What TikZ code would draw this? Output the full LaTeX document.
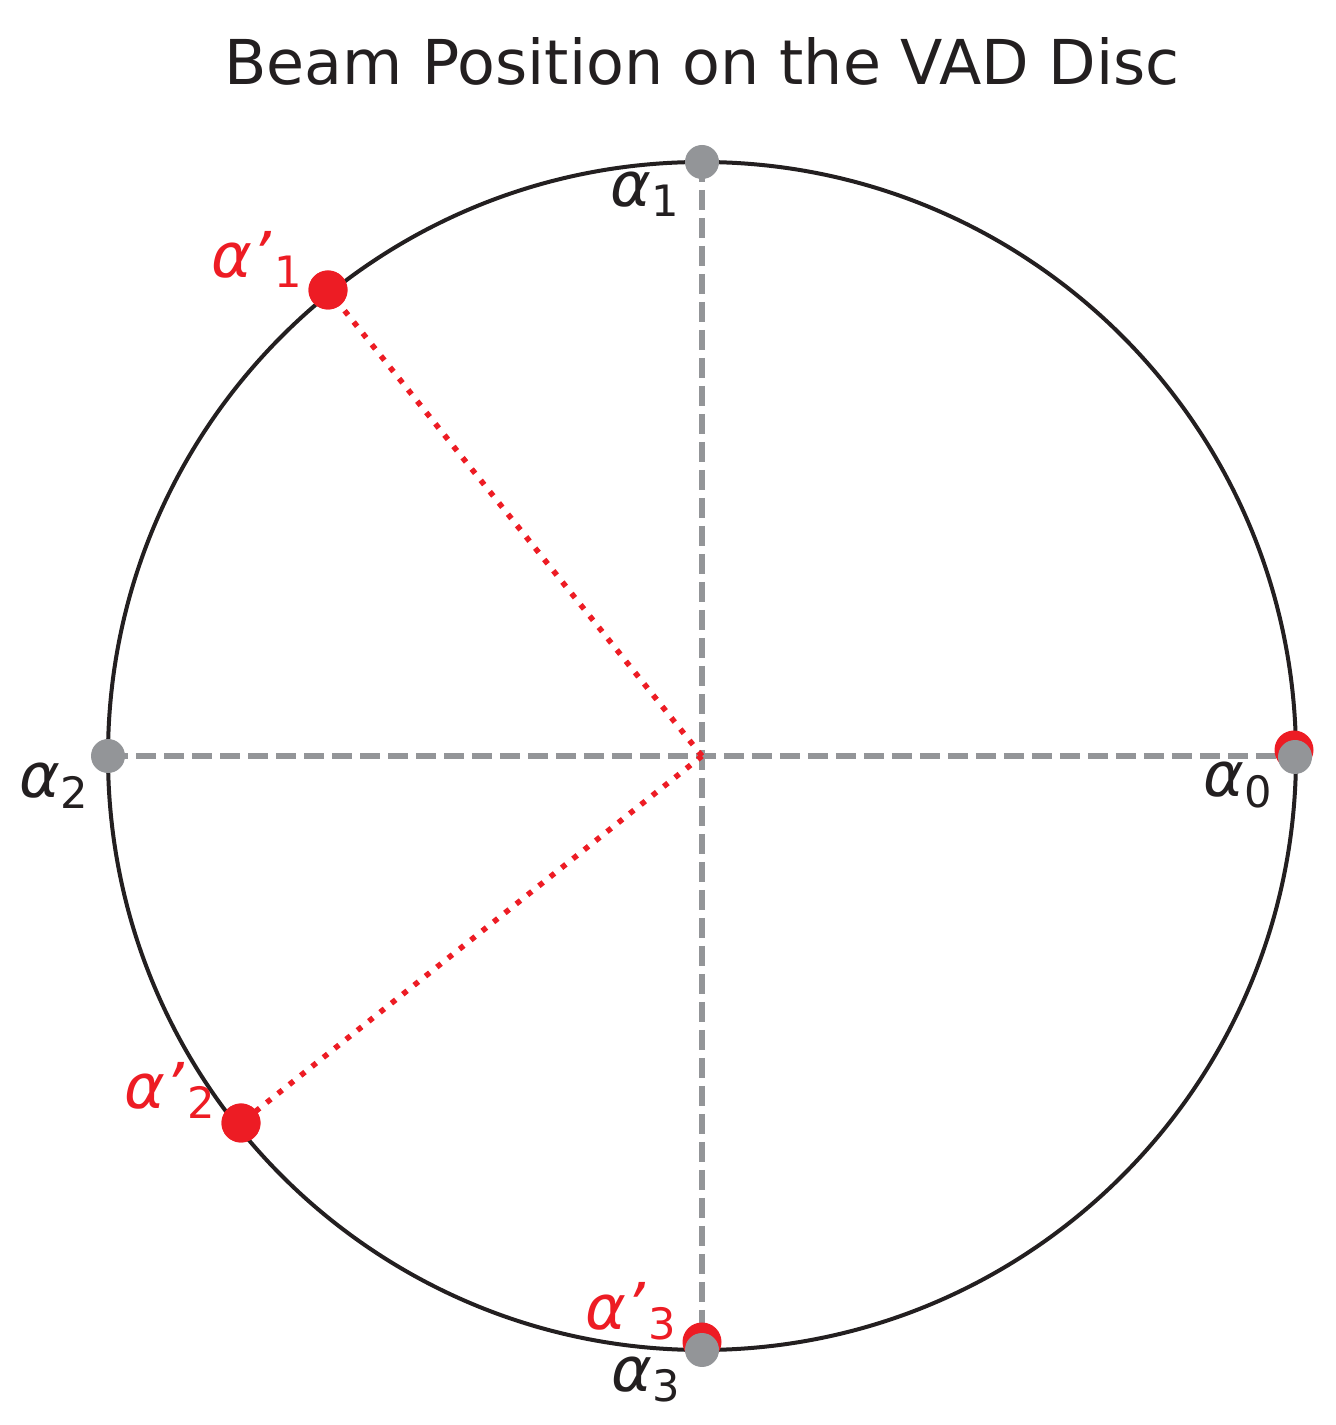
\documentclass[tikz,border=0pt]{standalone}
\usepackage{fontspec}
\setmainfont{DejaVu Sans}
\definecolor{vred}{HTML}{ED1C24}
\definecolor{vgray}{HTML}{939598}
\definecolor{vblack}{HTML}{231F20}
\newcommand\subsz{\fontsize{12.3pt}{13pt}\selectfont}
\newcommand\albl[1]{\textit{α}\raisebox{-0.17em}{\subsz #1}}
\newcommand\alblp[1]{\textit{α}\kern-0.02em\raisebox{0.02em}{\itshape\char"27}\kern0.06em\raisebox{-0.17em}{\subsz #1}}
\tikzset{
  disc/.style={draw=vblack, line width=0.04cm},
  axisline/.style={vgray, line width=0.055cm, dash pattern=on 0.2cm off 0.08cm},
  beamline/.style={vred, line width=0.055cm, dash pattern=on 0.055cm off 0.09cm},
  graydot/.style={circle, fill=vgray, inner sep=0pt, minimum size=0.34cm},
  reddot/.style={circle, fill=vred, inner sep=0pt, minimum size=0.39cm},
  lbl/.style={inner sep=0pt, font=\fontsize{17.6pt}{20pt}\selectfont},
  blacklbl/.style={lbl, text=vblack},
  redlbl/.style={lbl, text=vred},
}
\begin{document}
\begin{tikzpicture}
\useasboundingbox (0,0) rectangle (13.35,14.25);
\coordinate (C) at (7.02,6.69);
\coordinate (g1) at (7.02,12.63);
\coordinate (g2) at (1.08,6.69);
\coordinate (g0) at (12.96,6.69);
\coordinate (g3) at (7.02,0.75);
\node[anchor=base, lbl, text=vblack] (title) at (7.02,13.40) {Beam Position on the VAD Disc};
\draw[disc] (C) circle (5.94);
\draw[axisline] (g2) -- (g0);
\draw[axisline] (g1) -- (g3);
\node[reddot] (r1) at (3.28,11.35) {};
\node[reddot] (r2) at (2.41,3.02) {};
\node[reddot] (r3) at (7.02,0.83) {};
\node[reddot] (r0) at (12.94,6.75) {};
\draw[beamline] (C) -- (r1.center);
\draw[beamline] (C) -- (r2.center);
\node[reddot] at (r1) {};
\node[reddot] at (r2) {};
\node[graydot] (d1) at (g1) {};
\node[graydot] (d2) at (g2) {};
\node[graydot] (d0) at (12.95,6.68) {};
\node[graydot] (d3) at (g3) {};
\node[blacklbl] (l1) at (6.45,12.31) {\albl{1}};
\node[blacklbl] (l2) at (0.535,6.395) {\albl{2}};
\node[blacklbl] (l0) at (12.375,6.40) {\albl{0}};
\node[blacklbl] (l3) at (6.455,0.455) {\albl{3}};
\node[redlbl] (lp1) at (2.57,11.655) {\alblp{1}};
\node[redlbl] (lp2) at (1.70,3.345) {\alblp{2}};
\node[redlbl] (lp3) at (6.31,1.135) {\alblp{3}};
\end{tikzpicture}
\end{document}
